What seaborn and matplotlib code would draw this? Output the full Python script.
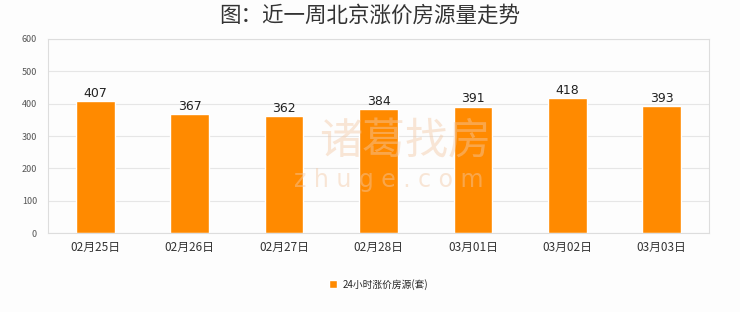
import matplotlib
matplotlib.use("Agg")
import matplotlib.pyplot as plt
import seaborn as sns
import pandas as pd

dates = ["02月25日", "02月26日", "02月27日", "02月28日", "03月01日", "03月02日", "03月03日"]
counts = [407, 367, 362, 384, 391, 418, 393]
series_name = "24小时涨价房源(套)"
y_ticks = [0, 100, 200, 300, 400, 500, 600]

sns.set_theme(style="white")
plt.rcParams["font.family"] = ["Noto Sans CJK SC", "DejaVu Sans"]

df = pd.DataFrame({"date": dates, "count": counts, "series": series_name})

bg = "#fdfdfd"
fig = plt.figure(figsize=(7.4, 3.12), dpi=100, facecolor=bg)
ax = fig.add_axes([0.065, 0.253, 0.893, 0.622])
ax.set_facecolor(bg)

sns.barplot(data=df, x="date", y="count", hue="series", palette=["#ff8a00"],
            width=0.41, ax=ax, saturation=1, legend=True)

for i, v in enumerate(counts):
    ax.text(i, v + 4, str(v), ha="center", va="bottom", fontsize=9,
            color="#222222", family=["DejaVu Sans"])

ax.set_ylim(0, 600)
ax.set_yticks(y_ticks)
ax.set_yticklabels([str(t) for t in y_ticks], fontsize=6.5, color="#555555")
ax.tick_params(axis="x", labelsize=8.5, labelcolor="#333333", length=0, pad=6)
ax.tick_params(axis="y", length=0, pad=8)
ax.set_xlabel("")
ax.set_ylabel("")
ax.grid(axis="y", color="#e6e6e6", linewidth=0.8)
ax.set_axisbelow(True)
for s in ax.spines.values():
    s.set_color("#dddddd")
    s.set_linewidth(0.8)

# faint watermark
fig.text(0.548, 0.545, "诸葛找房", fontsize=31, color="#f3c9a6", alpha=0.45,
         ha="center", va="center", zorder=10)
fig.text(0.525, 0.423, "z h u g e . c o m", fontsize=17, color="#f3c9a6", alpha=0.45,
         ha="center", va="center", zorder=10, family=["DejaVu Sans"])

fig.suptitle("图：近一周北京涨价房源量走势", fontsize=15.5, color="#333333",
             y=0.985, va="top", fontweight="medium")

ax.legend(loc="upper center", bbox_to_anchor=(0.5, -0.19), frameon=False,
          fontsize=7, handlelength=0.8, handleheight=0.8, handletextpad=0.6)

fig.savefig("out.png", dpi=100, facecolor=bg)
